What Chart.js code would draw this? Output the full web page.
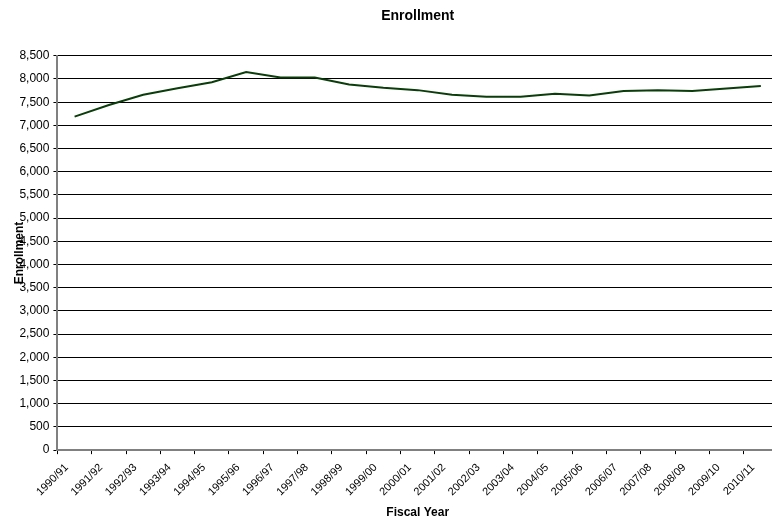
<!DOCTYPE html>
<html>
<head>
<meta charset="utf-8">
<script src="https://cdn.jsdelivr.net/npm/chart.js@4"></script>
<style>
  html, body { margin: 0; padding: 0; background: #fff; overflow: hidden; }
  #wrap { width: 772px; height: 520px; overflow: hidden; }
</style>
</head>
<body>
<div id="wrap"><canvas id="chart" width="818" height="520"></canvas></div>
<script>
/* ── DATA ───────────────────────────────────── */
const fiscalYears = ['1990/91','1991/92','1992/93','1993/94','1994/95','1995/96','1996/97',
    '1997/98','1998/99','1999/00','2000/01','2001/02','2002/03','2003/04','2004/05',
    '2005/06','2006/07','2007/08','2008/09','2009/10','2010/11'];
const enrollment = [7190, 7440, 7660, 7800, 7930, 8150, 8030, 8030, 7880, 7810, 7760,
    7660, 7615, 7615, 7680, 7645, 7740, 7755, 7740, 7795, 7850];
const yMin = 0, yMax = 8500, yStep = 500;

/* ── CHART ──────────────────────────────────── */
const font = "'Liberation Sans', Arial, sans-serif";

new Chart(document.getElementById('chart'), {
    type: 'line',
    data: {
        labels: fiscalYears,
        datasets: [{
            label: 'Enrollment',
            data: enrollment,
            borderColor: '#0b3d0b',
            borderWidth: 2,
            pointRadius: 0,
            tension: 0,
            fill: false
        }]
    },
    options: {
        responsive: false,
        animation: false,
        devicePixelRatio: 1,
        layout: { padding: { left: 0, right: 40, top: 0, bottom: 0 } },
        plugins: {
            legend: { display: false },
            tooltip: { enabled: false },
            title: {
                display: true,
                fullSize: false,
                text: 'Enrollment',
                color: '#000',
                font: { family: font, size: 14, weight: 'bold' },
                padding: { top: 8, bottom: 31 }
            }
        },
        scales: {
            x: {
                offset: true,
                grid: { offset: true, drawOnChartArea: false, drawTicks: true, tickLength: 4, color: '#000' },
                border: { color: '#808080', width: 2 },
                ticks: {
                    color: '#000', maxRotation: 45, minRotation: 45, autoSkip: false,
                    font: { family: font, size: 11 }, padding: 7, labelOffset: -8
                },
                title: {
                    display: true, text: 'Fiscal Year', color: '#000',
                    font: { family: font, size: 12, weight: 'bold' },
                    padding: { top: 0, bottom: 0 }
                }
            },
            y: {
                min: yMin,
                max: yMax,
                grid: { color: '#000', lineWidth: 1, tickLength: 4, tickColor: '#000' },
                border: { color: '#808080', width: 2 },
                ticks: {
                    stepSize: yStep, color: '#000', padding: 4,
                    font: { family: font, size: 12 },
                    callback: v => v.toLocaleString('en-US')
                },
                title: {
                    display: true, text: 'Enrollment', color: '#000',
                    font: { family: font, size: 12, weight: 'bold' },
                    padding: { top: 12, bottom: -11 }
                }
            }
        }
    }
});
</script>
</body>
</html>
